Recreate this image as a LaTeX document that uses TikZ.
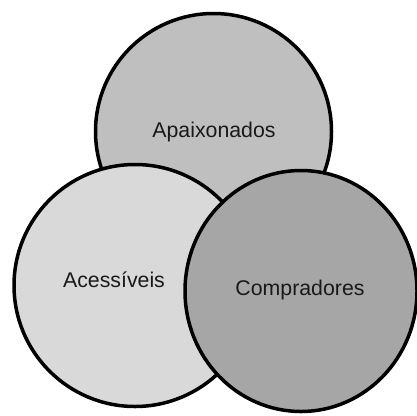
\documentclass[tikz,border=0pt]{standalone}
\usepackage{fontspec}
\setmainfont{Liberation Sans}
\usetikzlibrary{calc}

\definecolor{grayTop}{HTML}{BFBFBF}
\definecolor{grayLeft}{HTML}{D9D9D9}
\definecolor{grayRight}{HTML}{A6A6A6}

\begin{document}
\begin{tikzpicture}[x=1pt, y=-1pt, line join=round,
  ring/.style={draw=black, line width=3.5pt},
  label/.style={anchor=base, text=black!90, inner sep=0pt,
    font=\fontsize{21.3}{25}\selectfont}]

% ----------------------------
% CANVAS
% ----------------------------
\useasboundingbox (0,0) rectangle (417,415);
\clip (0,0) rectangle (417,415);

% ----------------------------
% PARAMETERS
% ----------------------------
\def\rT{118}      % top circle radius
\def\rL{121}      % left circle radius
\def\rRx{116}     % right circle x radius
\def\rRy{120.5}   % right circle y radius

\coordinate (cTop)   at (213.5,131.5);
\coordinate (cLeft)  at (135,285.5);
\coordinate (cRight) at (301,291);

% ----------------------------
% CIRCLES (back to front)
% ----------------------------
\path[ring, fill=grayTop]   (cTop) circle (\rT);
\path[ring, fill=grayLeft]  (cLeft) circle (\rL);
\path[ring, fill=grayRight] (cRight) ellipse [x radius=\rRx, y radius=\rRy];

% ----------------------------
% LABELS
% ----------------------------
\node[label] (apaixonados) at (214,137.5) {Apaixonados};
\node[label] (acessiveis)  at (114,287.5) {Acessíveis};
\node[label] (compradores) at (300,295)   {Compradores};

\end{tikzpicture}
\end{document}
